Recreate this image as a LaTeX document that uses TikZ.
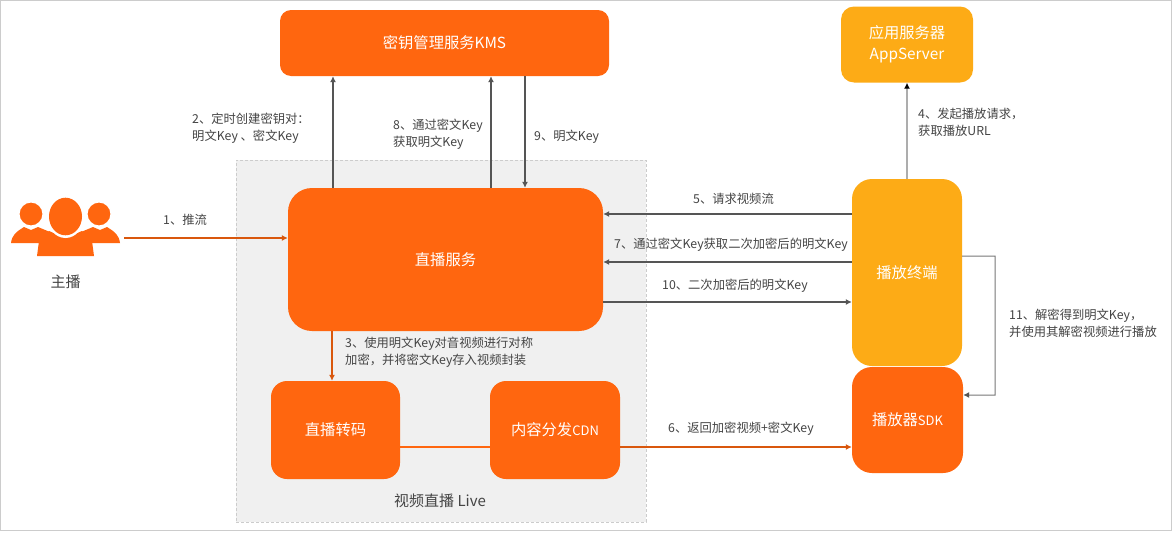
\documentclass[tikz,border=0pt]{standalone}
\usepackage{fontspec}
\setmainfont{Noto Sans CJK SC}
\usetikzlibrary{arrows.meta}
\definecolor{hot}{HTML}{FF660F}
\definecolor{warm}{HTML}{FDAB16}
\definecolor{liveback}{HTML}{F0F0F0}
\definecolor{txt}{HTML}{444444}
\definecolor{frameline}{HTML}{CCCCCC}
\definecolor{darkline}{HTML}{555555}
\tikzset{
  box/.style={draw=none,rounded corners=#1,inner sep=0pt,text=white,font=\fontsize{15.3}{21}\selectfont,align=center},
  hotbox/.style={box=16pt,fill=hot},
  warmbox/.style={box=16pt,fill=warm},
  lbl/.style={anchor=west,inner sep=0pt,text=txt,align=left,font=\fontsize{12.3}{17}\selectfont},
  tag/.style={inner sep=0pt,text=txt,font=\fontsize{15}{19}\selectfont},
  link/.style={draw=darkline,line width=1.1pt,-{Latex[length=6pt,width=6pt]}},
  hotlink/.style={draw=hot!85!black,line width=1.1pt,-{Latex[length=6pt,width=6pt]}},
  plain/.style={draw=hot,line width=1.1pt},
}
\begin{document}
\begin{tikzpicture}[x=1pt,y=-1pt]
\useasboundingbox (0,0) rectangle (1172,533);
\fill[white] (0,0) rectangle (1172,533);
\draw[frameline,line width=1pt] (0.5,0.5) rectangle (1171,530);

% live streaming area
\node[draw=frameline,densely dashed,fill=liveback,line width=0.8pt,minimum width=410pt,minimum height=362pt,inner sep=0pt] (live) at (441,341) {};

% service boxes
\node[hotbox,minimum width=329pt,minimum height=66pt,rounded corners=11pt] (kms) at (444.5,43) {密钥管理服务KMS};
\node[warmbox,minimum width=132pt,minimum height=76pt,rounded corners=13pt] (app) at (907,44.5) {应用服务器\\AppServer};
\node[hotbox,minimum width=315pt,minimum height=143pt,rounded corners=24pt] (svc) at (445.5,259.5) {直播服务};
\node[warmbox,minimum width=110pt,minimum height=187pt,rounded corners=20pt] (player) at (907,272.5) {播放终端};
\node[hotbox,minimum width=111pt,minimum height=106pt,rounded corners=20pt] (sdk) at (907.5,420) {播放器\fontsize{13}{19}\selectfont SDK};
\node[hotbox,minimum width=129pt,minimum height=98pt] (trans) at (335.5,430) {直播转码};
\node[hotbox,minimum width=130pt,minimum height=98pt] (cdn) at (555,430) {内容分发\fontsize{13}{19}\selectfont CDN};

% streamer icon: two side figures behind a larger central one
\fill[hot] (11,243) .. controls (12,235) and (16,232) .. (24,227) -- (31,230) -- (38,227) -- (50,232) -- (50,243) -- cycle;
\fill[hot] (120,243) .. controls (119,235) and (115,232) .. (107,227) -- (100,230) -- (93,227) -- (81,232) -- (81,243) -- cycle;
\fill[hot,draw=white,line width=1.5pt] (31,214) circle (12.2pt);
\fill[hot,draw=white,line width=1.5pt] (99,214) circle (12.2pt);
\fill[hot] (37,256) -- (39,241) .. controls (42,237) and (46,236) .. (49,231) -- (65.5,238) -- (82,231) .. controls (85,236) and (89,237) .. (92,241) -- (94,256) -- cycle;
\fill[white] (65.5,216.5) ellipse (18.5pt and 21.5pt);
\fill[hot] (65.5,216.5) ellipse (16.5pt and 18.8pt);
\node[tag] (host) at (65.5,281.5) {主播};
\coordinate (hostout) at (124,238);

% area caption
\node[tag] (caption) at (440,501) {视频直播 Live};

% connectors
\draw[hotlink] (hostout) -- (hostout -| svc.west);
\draw[link] ([xshift=-112.5pt]svc.north) -- ([xshift=-111.5pt]kms.south);
\draw[link] ([xshift=45.5pt]svc.north) -- ([xshift=46.5pt]kms.south);
\draw[link] ([xshift=80.5pt]kms.south) -- ([xshift=79.5pt]svc.north);
\draw[link] ([yshift=58.5pt]player.west) -- ([yshift=45.5pt]svc.east);
\draw[link] ([yshift=10.5pt]player.west) -- ([yshift=-2.5pt]svc.east);
\draw[link] ([yshift=-42.5pt]svc.east) -- ([yshift=-29.5pt]player.west);
\draw[draw=frameline!85!black,line width=1.5pt,-{Latex[length=6pt,width=6pt,color=black]}] (player.north) -- (app.south);
\draw[draw=darkline!80,line width=1pt,-{Latex[length=6pt,width=6pt,color=darkline]}] ([yshift=16.5pt]player.east) -- ++(33,0) -- (995,395) -- ([yshift=25pt]sdk.east);
\draw[hotlink] ([xshift=-113.5pt]svc.south) -- ([xshift=-3.5pt]trans.north);
\draw[plain] ([yshift=-17pt]trans.east) -- ([yshift=-17pt]cdn.west);
\draw[hotlink] ([yshift=-17pt]cdn.east) -- ([yshift=-27pt]sdk.west);

% step labels
\node[lbl] (s1) at (163,219.5) {1、推流};
\node[lbl] (s2) at (192,128.5) {2、定时创建密钥对：\\明文Key 、密文Key};
\node[lbl] (s3) at (345,352) {3、使用明文Key对音视频进行对称\\加密，并将密文Key存入视频封装};
\node[lbl] (s4) at (918,122) {4、发起播放请求，\\获取播放URL};
\node[lbl] (s5) at (693,198.5) {5、请求视频流};
\node[lbl] (s6) at (668,428.5) {6、返回加密视频+密文Key};
\node[lbl] (s7) at (614,245) {7、通过密文Key获取二次加密后的明文Key};
\node[lbl] (s8) at (393,134) {8、通过密文Key\\获取明文Key};
\node[lbl] (s9) at (534,136.5) {9、明文Key};
\node[lbl] (s10) at (662,286) {10、二次加密后的明文Key};
\node[lbl] (s11) at (1009,323.5) {11、解密得到明文Key，\\并使用其解密视频进行播放};
\end{tikzpicture}
\end{document}
